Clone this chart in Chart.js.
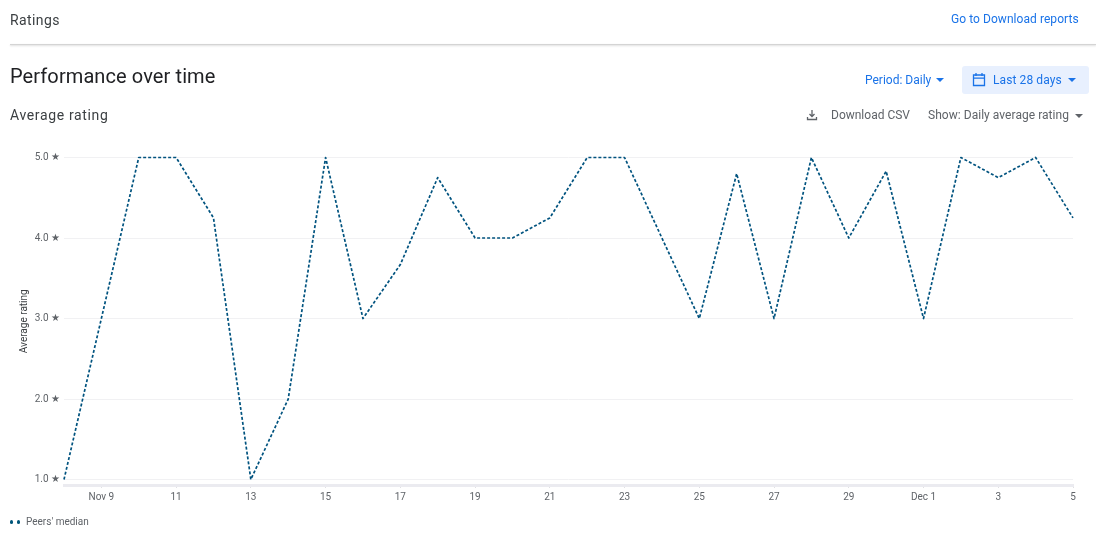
<!DOCTYPE html>
<html lang="en">
<head>
<meta charset="UTF-8">
<title>Ratings</title>
<script src="https://cdn.jsdelivr.net/npm/chart.js"></script>
<style>
    html, body { margin: 0; padding: 0; background: #fff; overflow: hidden; }
    body { width: 1096px; height: 542px; position: relative; font-family: Roboto, Arial, sans-serif; }
    canvas { position: absolute; left: 0; top: 0; }
    .txt { position: absolute; white-space: nowrap; line-height: 16px; }
    .blue { color: #1a73e8; }
    .grey { color: #5f6368; }
    .rule { position: absolute; left: 10px; right: 0; top: 44px; height: 1px; background: #d4d4d4; box-shadow: 0 1px 2px rgba(0,0,0,.18); }
    .datebtn { position: absolute; left: 962px; top: 66px; width: 127px; height: 28px; background: #e8f0fe; border-radius: 3px; }
    .caret { position: absolute; width: 0; height: 0; border-left: 4.5px solid transparent; border-right: 4.5px solid transparent; border-top: 4.5px solid; }
    svg { position: absolute; }
    .dot { position: absolute; width: 3px; height: 4px; background: #01567a; border-radius: 1.5px; top: 520px; }
</style>
</head>
<body>
    <canvas id="ratingChart" width="1096" height="542"></canvas>

    <div class="txt" style="left:10px;top:12px;font-size:14px;color:#3c4043;letter-spacing:.4px">Ratings</div>
    <div class="txt blue" style="left:951px;top:11px;font-size:12px;letter-spacing:.06px">Go to Download reports</div>
    <div class="rule"></div>

    <div class="txt" style="left:10px;top:67px;font-size:20px;line-height:18px;color:#202124;letter-spacing:.1px">Performance over time</div>
    <div class="txt blue" style="left:865px;top:72px;font-size:12px">Period: Daily</div>
    <div class="caret blue" style="left:936px;top:78px"></div>
    <div class="datebtn"></div>
    <svg style="left:972px;top:72px" width="14" height="15" viewBox="0 0 14 15">
        <path d="M1.5 3h11v10.5h-11z M1.5 6.2h11" fill="none" stroke="#1a73e8" stroke-width="1.3"/>
        <path d="M4 1v3M10 1v3" stroke="#1a73e8" stroke-width="1.3"/>
    </svg>
    <div class="txt blue" style="left:993px;top:72px;font-size:12px;letter-spacing:.1px">Last 28 days</div>
    <div class="caret blue" style="left:1068px;top:78px"></div>

    <div class="txt" style="left:10px;top:107px;font-size:14px;color:#3c4043;letter-spacing:.65px">Average rating</div>
    <svg style="left:806px;top:109px" width="12" height="12" viewBox="0 0 12 12">
        <path d="M6 1v6M3.5 5l2.5 2.5L8.500 5M1.500 8v2.500h9V8" fill="none" stroke="#5f6368" stroke-width="1.3"/>
    </svg>
    <div class="txt grey" style="left:831px;top:107px;font-size:12px">Download CSV</div>
    <div class="txt grey" style="left:928px;top:107px;font-size:12px;letter-spacing:.04px">Show: Daily average rating</div>
    <div class="caret grey" style="left:1075px;top:114px"></div>

    <div class="dot" style="left:10px"></div>
    <div class="dot" style="left:17px"></div>
    <div class="txt" id="legendLabel" style="left:26px;top:514px;font-size:10px;color:#5f6368"></div>

    <script>
        const dayLabels = ['Nov 8', 'Nov 9', '10', '11', '12', '13', '14', '15', '16', '17', '18', '19', '20', '21',
            '22', '23', '24', '25', '26', '27', '28', '29', '30', 'Dec 1', '2', '3', '4', '5'];
        const peersMedian = [1, 3, 5, 5, 4.25, 1, 2, 5, 3, 3.67, 4.75, 4, 4, 4.25,
            5, 5, 4, 3, 4.8, 3, 5, 4, 4.83, 3, 5, 4.75, 5, 4.25];
        const yTicks = [1, 2, 3, 4, 5];
        const seriesName = "Peers' median";
        const axisTitle = 'Average rating';

        document.getElementById('legendLabel').textContent = seriesName;

        const ctx = document.getElementById('ratingChart').getContext('2d');
        new Chart(ctx, {
            type: 'line',
            data: {
                labels: dayLabels,
                datasets: [{
                    label: seriesName,
                    data: peersMedian,
                    borderColor: '#01537f',
                    borderWidth: 1.7,
                    borderDash: [3, 2],
                    borderJoinStyle: 'round',
                    pointRadius: 0,
                    tension: 0,
                    fill: false,
                    clip: false
                }]
            },
            options: {
                responsive: false,
                animation: false,
                layout: { padding: { left: 18, right: 23, top: 157.5, bottom: 27 } },
                plugins: { legend: { display: false }, tooltip: { enabled: false } },
                scales: {
                    x: {
                        offset: false,
                        border: { color: '#ebebf0', width: 3 },
                        grid: {
                            drawOnChartArea: false,
                            tickLength: 3,
                            color: (c) => c.index % 2 === 1 ? '#e0e0e4' : 'rgba(0,0,0,0)'
                        },
                        ticks: {
                            autoSkip: false,
                            maxRotation: 0,
                            padding: 3,
                            color: '#5f6368',
                            font: { family: 'Roboto', size: 10 },
                            callback: function (value, index) {
                                return index % 2 === 1 ? dayLabels[index] : '';
                            }
                        },
                        afterFit: (scale) => { scale.height = 30; }
                    },
                    y: {
                        min: 0.932,
                        max: 5,
                        afterBuildTicks: (scale) => { scale.ticks = yTicks.map((v) => ({ value: v })); },
                        border: { display: false },
                        grid: { color: '#f1f1f3', drawTicks: false },
                        ticks: {
                            padding: 4,
                            color: '#5f6368',
                            font: { family: 'Roboto', size: 10 },
                            callback: (v) => v.toFixed(1) + ' ★'
                        },
                        title: {
                            display: true,
                            text: axisTitle,
                            color: '#3c4043',
                            padding: 0,
                            font: { family: 'Roboto', size: 10 }
                        },
                        afterFit: (scale) => { scale.width = 46; }
                    }
                }
            }
        });
    </script>
</body>
</html>
